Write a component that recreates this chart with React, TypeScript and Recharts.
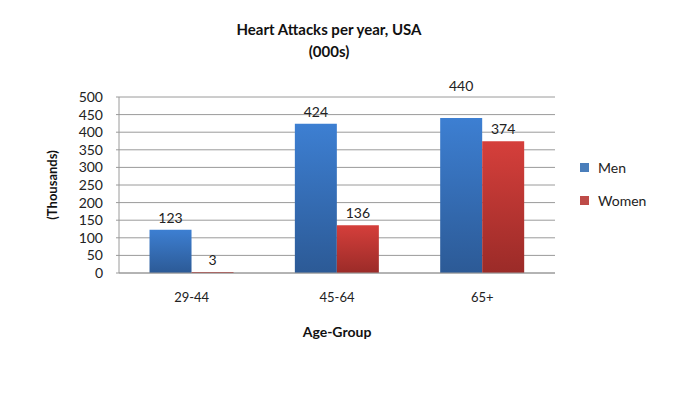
import React from 'react';
import { BarChart, Bar, XAxis, YAxis, CartesianGrid, Legend, LabelList, Label } from 'recharts';

const ageGroups = ['29-44', '45-64', '65+'];
const menValues = [123, 424, 440];
const womenValues = [3, 136, 374];
const yTicks = [0, 50, 100, 150, 200, 250, 300, 350, 400, 450, 500];

const data = ageGroups.map((g, i) => ({ group: g, Men: menValues[i], Women: womenValues[i] }));

const FONT = 'Lato, "Open Sans", sans-serif';

const legendItems = [
  { name: 'Men', color: '#4a7ebb' },
  { name: 'Women', color: '#be4b48' },
];

function LegendBox() {
  return (
    <div style={{ display: 'flex', flexDirection: 'column', gap: 16, paddingLeft: 25, marginTop: -26, fontFamily: FONT, fontSize: 14, color: '#222' }}>
      {legendItems.map((it) => (
        <div key={it.name} style={{ display: 'flex', alignItems: 'center', height: 17 }}>
          <span style={{ width: 9, height: 9, background: it.color, marginRight: 9, display: 'inline-block' }} />
          {it.name}
        </div>
      ))}
    </div>
  );
}

// value label above bar; the 440 bar label sits higher in the original
const makeLabel = (lifted: number[]) => (props: any) => {
  const { x, y, width, value, index } = props;
  const off = lifted.includes(index) ? 27 : 7;
  return (
    <text x={x + width / 2} y={y - off} textAnchor="middle" fontFamily={FONT} fontSize={14} fill="#222">
      {value}
    </text>
  );
};

export default function App() {
  return (
    <div style={{ position: 'absolute', left: 0, top: 0, width: 686, height: 394, background: '#fff', fontFamily: FONT }}>
      <div style={{ position: 'absolute', left: 0, width: 658, top: 18, textAlign: 'center', fontWeight: 700, fontSize: 15, color: '#111', lineHeight: '22px' }}>
        Heart Attacks per year, USA
        <br />
        (000s)
      </div>
      <BarChart
        width={686}
        height={394}
        data={data}
        margin={{ top: 97, right: 31, left: 59, bottom: 51 }}
        barCategoryGap="21%"
        barGap={0}
      >
        <defs>
          <linearGradient id="menFill" x1="0" y1="0" x2="0" y2="1">
            <stop offset="0%" stopColor="#3d7fd2" />
            <stop offset="100%" stopColor="#2c5a96" />
          </linearGradient>
          <linearGradient id="womenFill" x1="0" y1="0" x2="0" y2="1">
            <stop offset="0%" stopColor="#d53f3b" />
            <stop offset="100%" stopColor="#9b2b28" />
          </linearGradient>
        </defs>
        <CartesianGrid vertical={false} stroke="#9a9a9a" />
        <XAxis
          dataKey="group"
          height={70}
          axisLine={{ stroke: '#9a9a9a' }}
          tickLine={false}
          tickMargin={14}
          tick={{ fontFamily: FONT, fontSize: 13, fill: '#222' }}
        >
          <Label value="Age-Group" position="insideBottom" offset={6} style={{ fontFamily: FONT, fontSize: 14, fontWeight: 700, fill: '#111' }} />
        </XAxis>
        <YAxis
          width={60}
          domain={[0, 500]}
          ticks={yTicks}
          interval={0}
          axisLine={{ stroke: '#9a9a9a' }}
          tickLine={{ stroke: '#9a9a9a' }}
          tickSize={3}
          tickMargin={13}
          tick={{ fontFamily: FONT, fontSize: 14, fill: '#222' }}
        >
          <Label value="(Thousands)" angle={-90} position="center" dx={-37} style={{ fontFamily: FONT, fontSize: 13, fontWeight: 700, fill: '#111' }} />
        </YAxis>
        <Legend layout="vertical" align="right" verticalAlign="middle" width={100} content={() => <LegendBox />} />
        <Bar dataKey="Men" fill="url(#menFill)" isAnimationActive={false}>
          <LabelList dataKey="Men" content={makeLabel([2])} />
        </Bar>
        <Bar dataKey="Women" fill="url(#womenFill)" isAnimationActive={false}>
          <LabelList dataKey="Women" content={makeLabel([])} />
        </Bar>
      </BarChart>
    </div>
  );
}
